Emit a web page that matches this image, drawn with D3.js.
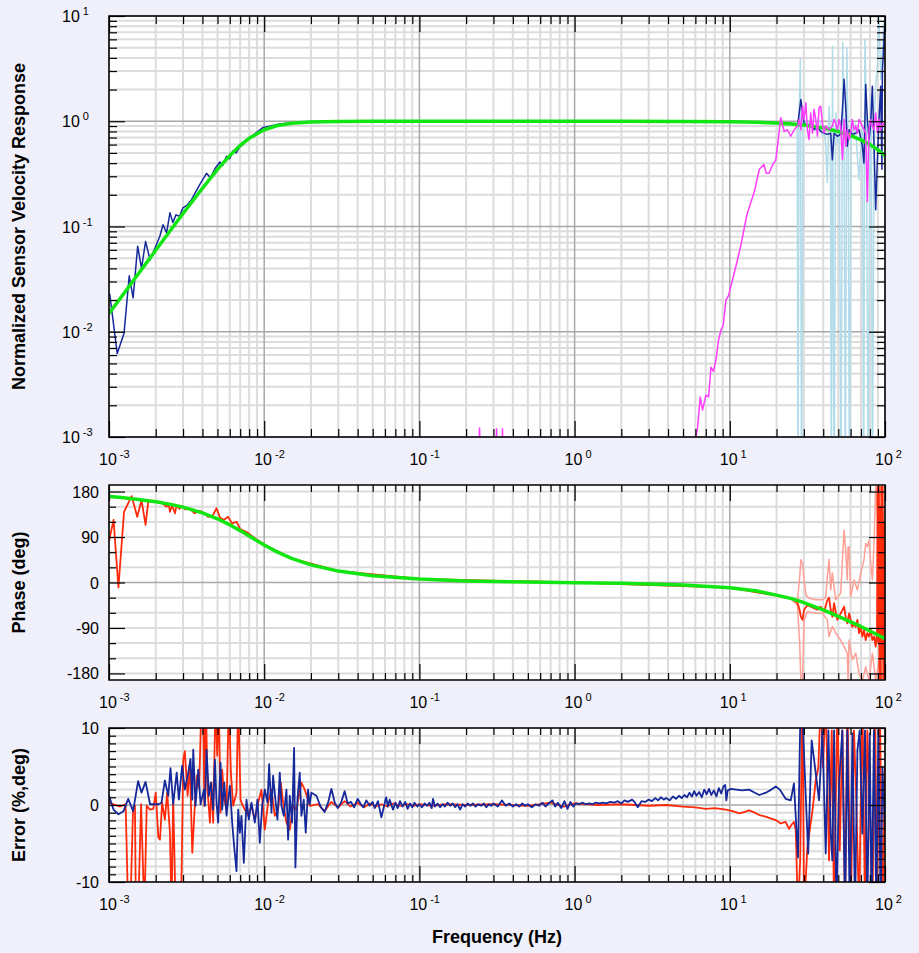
<!DOCTYPE html>
<html>
<head>
<meta charset="utf-8">
<script src="https://cdn.jsdelivr.net/npm/d3@7"></script>
<style>
  body { margin: 0; background: #f0f0fa; }
  svg { display: block; }
</style>
</head>
<body>
<div id="chart"></div>
<script>
// ---- model fit (green) ----
var fitFreq = [0.001, 0.0012, 0.0015, 0.002, 0.0025, 0.003, 0.004, 0.005, 0.006, 0.007, 0.008, 0.01, 0.012, 0.015, 0.02, 0.03, 0.05, 0.1, 0.2, 0.5, 1, 2, 5, 10, 15, 20, 25, 30, 40, 50, 60, 70, 80, 90, 100];
var fitMag = [0.0149, 0.0214, 0.0335, 0.0594, 0.0926, 0.133, 0.231, 0.349, 0.472, 0.589, 0.689, 0.83, 0.906, 0.958, 0.986, 0.997, 1.0, 1.0, 1.0, 1.0, 1.0, 1.0, 0.997, 0.99, 0.978, 0.96, 0.94, 0.92, 0.865, 0.8, 0.73, 0.665, 0.6, 0.535, 0.47];
var fitPhase = [170.1, 168.1, 165, 159.9, 154.6, 149.2, 137.8, 126.1, 114.2, 102.7, 92, 74.2, 61.1, 47.8, 34.9, 22.6, 13.4, 6.7, 3.2, 1.0, -0.3, -1.6, -4.8, -10.5, -17, -25, -32, -40, -54, -67, -78, -87, -96, -104, -111];

// ---- measured magnitude (navy) ----
var magMeasured = [[0.00101, 0.023], [0.00113, 0.0062], [0.00125, 0.0097], [0.00135, 0.034], [0.00143, 0.021], [0.00153, 0.065], [0.00162, 0.040], [0.00172, 0.072], [0.00184, 0.048], [0.002, 0.065], [0.00212, 0.08], [0.00223, 0.104], [0.00235, 0.087], [0.00247, 0.135], [0.00258, 0.109], [0.0027, 0.129], [0.00285, 0.125], [0.00299, 0.15], [0.0032, 0.16], [0.0034, 0.18], [0.00357, 0.205], [0.0039, 0.26], [0.00425, 0.32], [0.0045, 0.29], [0.00485, 0.36], [0.00518, 0.41], [0.0054, 0.38], [0.00572, 0.465], [0.006, 0.44], [0.00628, 0.52], [0.0066, 0.50], [0.00697, 0.57], [0.0073, 0.6], [0.00769, 0.67], [0.0085, 0.74], [0.0098, 0.87], [0.011, 0.9], [0.0125, 0.94], [0.0153, 0.97], [0.018, 0.99], [0.025, 1.0], [0.1, 1.0], [1, 1.0], [10, 1.0], [20, 0.97],
  [25, 0.95], [26.2, 0.93], [27.3, 0.90], [28.0, 1.2], [28.7, 1.61], [29.4, 1.2], [30.1, 0.96], [31.6, 0.90], [33.2, 0.96], [34.9, 0.83], [36.7, 0.90], [38.5, 0.80], [40.5, 0.77], [42.5, 0.75], [44.7, 0.77], [45.8, 0.43], [47.0, 0.77], [49.3, 0.72], [51.8, 0.75], [53.2, 1.3], [54.5, 2.5], [55.8, 1.39], [57.2, 0.58], [58.7, 0.83], [61.6, 0.75], [64.8, 0.77], [68.0, 0.83], [71.5, 0.58], [73.2, 0.40], [75.1, 2.24], [77.0, 1.04], [78.9, 0.67], [80.9, 0.96], [82.9, 2.15], [85.0, 0.58], [87.1, 0.144], [89.3, 0.43], [91.5, 1.04], [93.8, 2.15], [95.5, 0.35], [96.2, 3.0], [98, 5.0], [100, 8.5]];

// ---- second sensor magnitude (light blue) ----
var magSensorB = [[25.5, 0.96], [26.5, 0.93], [27.2, 0.9], [27.5, 0.0002], [27.9, 0.95], [28.5, 3.9], [29.0, 0.0002], [29.6, 1.05], [30.5, 0.92], [31.6, 1.0], [32.4, 0.88], [33.5, 1.05], [34.6, 0.9], [35.8, 0.82], [37.0, 1.08], [38.3, 0.95], [39.5, 0.72], [40.5, 0.86], [41.5, 0.6], [42.5, 0.26], [43.6, 1.39], [44.5, 0.75], [45.1, 0.0002], [45.9, 5.2], [47.0, 0.0002], [48.1, 1.2], [49.5, 0.62], [50.8, 0.9], [52.0, 0.0002], [53.4, 5.6], [54.6, 0.5], [55.5, 0.0002], [56.8, 5.0], [58.0, 0.5], [59.0, 0.0002], [60.6, 1.04], [62.5, 0.7], [64.5, 0.95], [66.4, 0.45], [68.0, 0.28], [69.8, 0.6], [71.5, 0.9], [72.8, 0.0002], [74.2, 6.0], [76.0, 0.8], [78.0, 0.0002], [79.8, 0.6], [81.5, 1.8], [83.0, 0.0002], [85.0, 0.8], [87.1, 2.2], [89.5, 3.5], [91.5, 9.5], [94, 2.5], [96.2, 4.5], [98.2, 9.0], [100, 5.0]];

// ---- reference channel magnitude (magenta) ----
var magReference = [[0.15, 0.0003], [0.2, 0.0004], [0.24, 0.0005], [0.244, 0.00122], [0.248, 0.0005], [0.28, 0.0004], [0.31, 0.0005], [0.314, 0.0012], [0.318, 0.0005], [0.34, 0.0005], [0.343, 0.0012], [0.347, 0.0005], [0.5, 0.0003], [1, 0.0002], [3, 0.0003], [5.5, 0.0006], [6.05, 0.001], [6.2, 0.00124], [6.45, 0.0024], [6.67, 0.0018], [7.01, 0.0025], [7.3, 0.0024], [7.56, 0.0046], [7.85, 0.0042], [8.14, 0.0054], [8.46, 0.0083], [8.77, 0.0104], [9.07, 0.0116], [9.44, 0.02], [9.81, 0.022], [10.4, 0.031], [11.2, 0.048], [11.8, 0.067], [12.9, 0.13], [14.4, 0.215], [15.5, 0.35], [16.6, 0.387], [17.2, 0.32], [17.9, 0.32], [18.8, 0.38], [19.8, 0.43], [21.3, 1.08], [22.4, 0.8], [23.5, 0.83], [24.7, 0.72], [26.0, 0.83], [27.3, 0.9], [28.0, 1.04], [28.7, 0.83], [29.4, 1.39], [30.1, 1.04], [30.9, 1.5], [31.6, 0.83], [32.4, 0.67], [33.2, 1.2], [34.1, 0.77], [34.9, 1.3], [35.8, 1.04], [36.7, 0.72], [37.6, 1.35], [38.5, 1.39], [39.5, 0.96], [40.5, 0.77], [41.5, 0.9], [43.6, 0.83], [45.8, 0.9], [47.0, 1.04], [48.1, 0.96], [49.3, 0.83], [50.6, 1.04], [51.8, 0.9], [53.2, 0.43], [54.5, 1.04], [55.8, 0.58], [57.2, 0.83], [58.7, 0.67], [60.1, 0.77], [61.6, 1.04], [63.2, 0.83], [64.8, 0.9], [66.4, 0.77], [68.0, 1.04], [71.5, 0.9], [75.1, 0.77], [77.0, 0.173], [78.9, 0.83], [80.9, 1.04], [82.9, 0.9], [85.0, 0.83], [87.1, 1.2], [89.3, 0.77], [91.5, 1.04], [93.8, 0.83], [96.2, 0.96], [100, 0.9]];

// ---- measured phase (red) ----
var phaseMeasured = [[0.001, 82], [0.00107, 124], [0.00115, -10], [0.00125, 140], [0.0014, 171], [0.00152, 130], [0.00162, 163], [0.00172, 114], [0.00179, 160], [0.0019, 162], [0.00203, 160], [0.00213, 158], [0.00225, 155], [0.00235, 150], [0.00242, 156], [0.00247, 140], [0.00255, 153], [0.00266, 137], [0.00272, 152], [0.00285, 146], [0.00294, 152], [0.00308, 145], [0.00332, 146], [0.00357, 137], [0.00385, 142], [0.00415, 136], [0.00435, 130], [0.00465, 132], [0.00493, 147], [0.0052, 128], [0.0055, 124], [0.00586, 130], [0.0062, 117], [0.00664, 120], [0.007, 106], [0.0077, 100], [0.0085, 90], [0.01, 75], [0.015, 48], [0.03, 23], [0.1, 7], [1, 0], [10, -10], [20, -26],
  [25, -32], [27.3, -40], [28.2, -55], [28.7, -68], [29.4, -74], [30.1, -54], [31.6, -45], [33.2, -48], [34.9, -51], [36.7, -54], [38.5, -48], [40.5, -58], [42.5, -35], [43.6, -30], [44.7, -54], [45.8, -68], [47.0, -41], [48.1, -58], [49.3, -74], [51.8, -61], [54.5, -48], [55.8, -68], [57.2, -81], [58.7, -61], [60.1, -74], [61.6, -88], [63.2, -81], [64.8, -88], [66.4, -74], [68.0, -100], [69.7, -88], [71.5, -107], [73.2, -94], [75.1, -114], [77.0, -100], [78.9, -107], [80.9, -94], [82.9, -114], [85.0, -107], [87.1, -127], [88.8, -100], [89.6, 190], [90.4, -120], [91.3, 190], [92.1, -190], [93.0, 150], [93.9, -190], [94.8, 190], [95.7, -150], [96.6, 190], [97.5, -190], [98.4, 120], [99.3, -190], [100, -110]];

// ---- phase uncertainty bounds (light red) ----
var phaseUpper = [[25, -30], [27.3, -35], [28.2, 10], [28.7, 45], [29.4, 38], [30.1, 5], [31, -25], [32.4, -31], [35.8, -34], [39.5, -34], [41.5, -30], [42.5, 11], [43.6, 46], [44.7, -15], [45.8, 19], [48.1, -34], [51.8, -21], [54.5, 104], [55.8, 63], [57.2, 5], [57.8, 70], [58.7, 71], [60.1, -28], [63.2, 5], [66.4, -15], [69.7, 18], [73.2, 44.5], [75.1, 77], [77.0, 71], [78.9, 84], [80.9, 38], [82.9, 5], [85.0, 77], [87.1, 190], [90, 120], [93, 190], [96, 150], [100, 100]];
var phaseLower = [[25, -34], [27.3, -45], [28.2, -120], [28.7, -195], [29.4, -195], [30.1, -74], [31.6, -58], [35.8, -61], [39.5, -61], [42.5, -74], [43.6, -107], [45.8, -87], [48.1, -100], [51.8, -114], [54.5, -127], [57.2, -140], [57.8, -195], [58.7, -114], [61.6, -153], [64.8, -140], [68.0, -180], [71.5, -195], [75.1, -167], [78.9, -195], [82.9, -140], [87.1, -195], [92, -150], [96, -195], [100, -170]];

// ---- errors (%, deg) ----
var errBlue = [[0.001, 1.2], [0.00107, -0.6], [0.00115, -1.2], [0.00124, -0.8], [0.00133, 0.8], [0.00143, -0.8], [0.00154, 3.1], [0.00162, 1.6], [0.00172, 3.0], [0.00184, 0.1], [0.00208, 0.1], [0.00218, 0.3], [0.00229, 3.2], [0.00241, 1.2], [0.00249, 4.8], [0.00259, 0.1], [0.00273, 4.2], [0.00282, 0.7], [0.00296, 5.1], [0.00308, 2.0], [0.00324, 4.2], [0.00335, 6.0], [0.00344, 0.7], [0.00349, 7.2], [0.00361, -0.1], [0.00376, 4.6], [0.00389, 0.1], [0.00409, 2.0], [0.00415, -0.1], [0.00425, 7.2], [0.0044, 1.2], [0.00453, 2.9], [0.00469, -0.6], [0.00481, 5.9], [0.00493, 0.3], [0.00505, -2.3], [0.00523, 5.5], [0.00536, -0.6], [0.00553, 2.9], [0.00572, -1.4], [0.00586, 0.7], [0.00601, 2.5], [0.00622, -2.3], [0.0064, -5.3], [0.00663, -8.6], [0.0068, -0.6], [0.00697, -3.6], [0.00714, -1.4], [0.00739, -7.5], [0.00769, 0.7], [0.00796, -1.9], [0.00828, 0.3], [0.0087, -2.3], [0.00905, 0.7], [0.00937, -4.9], [0.0097, -0.1], [0.0101, 2.0], [0.0105, 0.3], [0.01076, 5.3], [0.01114, -1.0], [0.01141, 3.8], [0.01181, 0.7], [0.01217, -1.9], [0.0126, 4.2], [0.01291, -0.1], [0.01337, -1.4], [0.01391, 2.0], [0.01426, -4.5], [0.01461, 1.2], [0.01512, -2.3], [0.01558, 7.4], [0.01589, -8.1], [0.01637, 0.7], [0.01694, 4.2], [0.01737, -1.4], [0.01798, 0.7], [0.01852, -3.6], [0.01917, 2.0], [0.01965, 0.1], [0.02015, 1.6], [0.0217, 1.2], [0.0232, -0.3], [0.0245, -0.9], [0.0258, 0.3], [0.0271, 2.1], [0.0285, 0.3], [0.0298, -0.4], [0.0314, 0.4], [0.033, 1.8], [0.0345, 0.2], [0.0362, 0.4], [0.038, -0.3], [0.04, 0.8], [0.042, 0.1], [0.0435, -0.3], [0.0455, 0.6], [0.0478, -0.1], [0.05, 0.4], [0.0515, -0.4], [0.0541, 0.5], [0.0569, -1.6], [0.061, 1.0], [0.0627, -0.2], [0.0643, 0.7], [0.0676, -0.6], [0.07, 0.3],
  [0.0725, -0.4], [0.075, 0.5], [0.078, -0.2], [0.081, 0.4], [0.084, -0.5], [0.087, 0.2], [0.09, -0.3], [0.093, 0.3], [0.097, -0.2], [0.1, 0.1], [0.104, -0.3], [0.108, 0.2], [0.112, -0.1], [0.116, 0.3], [0.12, -0.4], [0.1223, 0.8], [0.126, -0.2], [0.131, 0.2], [0.136, -0.3], [0.141, 0.1], [0.146, -0.2], [0.152, 0.3], [0.158, -0.1], [0.164, 0.2], [0.17, -0.3], [0.176, 0.1], [0.183, -0.6], [0.19, 0.1], [0.197, -0.2], [0.205, 0.2], [0.213, -0.1], [0.221, 0.2], [0.23, -0.2], [0.24, 0.1], [0.25, -0.1], [0.26, 0.2], [0.27, -0.3], [0.28, 0.1], [0.29, -0.1], [0.3, 0.2], [0.32, -0.2], [0.34, 0.6], [0.36, -0.1], [0.38, 0.2], [0.4, -0.2], [0.42, 0.1], [0.44, -0.2], [0.46, 0.2], [0.48, -0.1], [0.5, 0.1], [0.53, -0.3], [0.56, 0.1], [0.59, -0.1], [0.62, 0.3], [0.65, -0.2], [0.68, 0.2], [0.72, 0.6], [0.75, -0.2], [0.78, 0.3], [0.82, -0.4], [0.86, 0.5], [0.9, -0.5], [0.94, 0.4], [0.98, -0.2], [1.02, 0.2], [1.07, 0.1], [1.12, 0.3], [1.18, 0.1], [1.24, 0.2], [1.3, 0.1], [1.37, 0.3], [1.44, 0.2], [1.52, 0.3], [1.6, 0.2], [1.7, 0.4], [1.8, 0.3], [1.9, 0.5], [2.0, 0.2], [2.1, 0.6], [2.2, 0.4], [2.35, 0.7], [2.45, 0.3], [2.55, -0.3], [2.7, 0.5], [2.85, 0.4], [3.0, 0.7], [3.15, 0.5], [3.3, 0.9], [3.45, 0.6], [3.6, 1.0], [3.75, 0.7], [3.9, 0.9], [4.1, 0.6], [4.3, 1.1], [4.5, 0.8], [4.7, 1.2], [4.9, 0.9], [5.1, 1.3], [5.3, 1.0], [5.5, 1.6], [5.7, 1.1], [5.9, 1.8], [6.1, 1.2], [6.35, 1.7], [6.6, 1.0], [6.85, 2.0], [7.1, 1.4], [7.35, 2.1], [7.6, 1.3], [7.9, 1.9], [8.2, 1.1], [8.5, 2.2], [8.8, 1.5], [9.1, 2.4], [9.35, 2.6], [9.5, 0.6], [9.7, 1.9], [10.2, 2.1], [11, 2.0], [12, 1.9], [13.3, 2.0], [14.5, 1.6], [15.5, 1.3], [17.1, 1.6], [18.5, 2.0], [19.8, 2.4], [21, 2.0], [22.9, 0.8], [24.7, 0.6], [25.9, 2.8],
  [27.5, -6.8], [28.6, 14], [29.7, 9.7], [30.3, 4.9], [32.0, -6.3], [33.7, 8.4], [37.6, 0.6], [39.5, 9.7], [41.5, -6.3], [43.2, 9.7], [44.7, -3.7], [45.8, -7.2], [47.0, 9.7], [48.6, -14], [50.6, 2.8], [53.1, 9.7], [55.3, -14], [57.2, 9.7], [59.3, -14], [61.7, 9.3], [64.1, -14], [66.4, 7.1], [68.7, 9.7], [71.5, -3.7], [74.3, 9.7], [76.9, -14], [79.7, 9.3], [82.0, -14], [84.9, 9.7], [87.9, -14], [90.6, 9.7], [93.8, -14], [96.3, 4.9], [100, -3]];

var errRed = [[0.001, 0.3], [0.00118, -0.2], [0.00128, 0.1], [0.00133, -14], [0.00137, -14], [0.00143, -0.35], [0.00147, -0.1], [0.00149, -14], [0.00154, -14], [0.00161, 0.1], [0.00169, -14], [0.00175, -0.1], [0.00184, -0.6], [0.00193, -0.5], [0.002, 1.6], [0.00208, -4.2], [0.00213, -4.5], [0.0022, 0.3], [0.00229, -1.9], [0.00237, 1.6], [0.00247, -3.6], [0.00253, -14], [0.00259, 1.2], [0.00269, -14], [0.00279, -14], [0.00291, -14], [0.00301, 5.9], [0.00308, 7.0], [0.00321, 1.2], [0.00332, 5.1], [0.00344, -6.2], [0.00358, 0.3], [0.00368, 3.8], [0.00381, 2.2], [0.00395, 14], [0.00405, 14], [0.00411, -0.1], [0.00421, 14], [0.00431, 2.0], [0.00447, -2.3], [0.00458, 2.9], [0.00469, -2.3], [0.00486, 14], [0.00498, 6.4], [0.0051, 14], [0.00523, -1.0], [0.00536, 4.6], [0.00553, 0.7], [0.00572, -0.6], [0.00592, 14], [0.0061, 4.2], [0.00631, -0.1], [0.00663, 1.6], [0.0068, 14], [0.00704, 0.7], [0.00721, 0.1], [0.0075, -0.6], [0.00788, -1.4], [0.00828, -0.1], [0.0087, -1.9], [0.00914, 0.3], [0.0096, 2.0], [0.01009, -3.2], [0.0106, 0.3], [0.01114, 2.0], [0.0117, -1.4], [0.01229, -0.6], [0.01279, 2.9], [0.01324, 0.3], [0.01391, -2.3], [0.01461, -3.2], [0.01535, -0.1], [0.01613, -0.6], [0.01737, 2.9], [0.01825, 2.0], [0.01965, -0.1], [0.0222, 0.1], [0.0245, -0.8], [0.027, 0.4], [0.03, -0.3], [0.033, 0.5], [0.036, -0.2], [0.04, 0.3], [0.044, -0.3], [0.048, 0.2], [0.052, -0.2], [0.057, 0.1], [0.062, -0.2], [0.068, 0.2], [0.075, -0.1], [0.083, 0.1], [0.092, -0.1], [0.1, 0.1], [0.12, -0.1], [0.15, 0.1], [0.2, 0], [0.3, 0.1], [0.5, -0.1], [0.7, 0.3], [0.85, -0.2], [1.0, 0.2], [1.4, 0], [2, 0.1], [3, -0.1], [3.9, 0], [5, -0.2], [6, -0.3], [7, -0.5], [8, -0.4], [9.44, -0.6], [10.4, -0.8], [11.5, -1.1], [12.5, -0.9], [13.3, -0.7], [14.5, -1.0], [15.5, -1.3], [17, -1.5], [18.7, -1.8], [20, -2.0], [21.3, -2.4], [22.9, -2.2], [24.1, -3.1], [24.9, -2.6], [25.9, -2.2], [26.6, -3.3],
  [27.5, -14], [28.4, -7.2], [29.4, 14], [30.1, -14], [31.6, -5.5], [34.1, -0.7], [35.8, 3.2], [37.2, 4.9], [38.6, 14], [39.9, 4.9], [41.5, 14], [43.6, -7.2], [45.4, 9.7], [47.0, -14], [49.4, 14], [51.1, -5.9], [53.1, 9.7], [55.3, -14], [57.2, 14], [60.1, -14], [63.1, 9.7], [65.3, 0.6], [68.1, -14], [71.5, 14], [74.3, -14], [76.9, 9.7], [79.7, 0.6], [83.0, -14], [86.2, 14], [88.9, -14], [92.5, 14], [96.3, -14], [100, 5]];

// axis tick values
var phaseTicks = [-180, -90, 0, 90, 180];
var errorTicks = [-10, 0, 10];

var width = 919, height = 953;
var plotLeft = 109, plotRight = 885;
var fontFamily = "'Liberation Sans', Arial, Helvetica, sans-serif";
var green = "#12e612";

var svg = d3.select("#chart").append("svg")
    .attr("width", width)
    .attr("height", height)
    .style("font-family", fontFamily);

svg.append("rect").attr("width", width).attr("height", height).attr("fill", "#f0f0fa");

var x = d3.scaleLog().domain([1e-3, 1e2]).range([plotLeft, plotRight]);

function isDecade(d) { return Math.abs(Math.log10(d) - Math.round(Math.log10(d))) < 1e-6; }
var xMajor = x.ticks().filter(isDecade);
var xMinor = x.ticks().filter(function(d) { return !isDecade(d); });

var fitMagPts = fitFreq.map(function(f, i) { return [f, fitMag[i]]; });
var fitPhasePts = fitFreq.map(function(f, i) { return [f, fitPhase[i]]; });

var magY = d3.scaleLog().domain([1e-3, 10]);
var magYTicks = magY.ticks();

var phaseMinor = d3.range(-180, 181, 30).filter(function(d) { return phaseTicks.indexOf(d) < 0; });
var errorMinor = d3.range(-10, 11, 1).filter(function(d) { return errorTicks.indexOf(d) < 0; });

var panels = [
    { id: "mag", top: 16, bottom: 437, y: magY, log: true,
      yMajor: magYTicks.filter(isDecade), yMinor: magYTicks.filter(function(d) { return !isDecade(d); }),
      majorGrid: magYTicks.filter(isDecade),
      title: "Normalized Sensor Velocity Response",
      series: [
        { data: magSensorB, color: "#b2dcea", width: 1.5 },
        { data: magMeasured, color: "#16299a", width: 1.5 },
        { data: fitMagPts, color: green, width: 3.5 },
        { data: magReference, color: "#ff3cff", width: 1.5 }
      ] },
    { id: "phase", top: 485, bottom: 680, y: d3.scaleLinear().domain([-193, 193]), log: false,
      yMajor: phaseTicks, yMinor: phaseMinor, majorGrid: [0],
      title: "Phase (deg)",
      series: [
        { data: phaseUpper, color: "#ffa096", width: 1.5 },
        { data: phaseLower, color: "#ffa096", width: 1.5 },
        { data: phaseMeasured, color: "#ff2a0a", width: 1.8 },
        { data: fitPhasePts, color: green, width: 3.5 }
      ] },
    { id: "err", top: 728, bottom: 882, y: d3.scaleLinear().domain([-10, 10]), log: false,
      yMajor: errorTicks, yMinor: errorMinor, majorGrid: [0],
      title: "Error (%,deg)",
      series: [
        { data: errRed, color: "#ff2a0a", width: 1.8 },
        { data: errBlue, color: "#16299a", width: 1.8 }
      ] }
];

panels.forEach(drawPanel);

// x axis title
svg.append("text")
    .attr("x", (plotLeft + plotRight) / 2)
    .attr("y", 943)
    .attr("text-anchor", "middle")
    .attr("font-size", 18)
    .attr("font-weight", "bold")
    .text("Frequency (Hz)");

function drawPanel(p) {
    var y = p.y.range([p.bottom, p.top]);
    var g = svg.append("g").attr("class", "panel-" + p.id);
    var allY = p.yMajor.concat(p.yMinor);

    g.append("rect")
        .attr("x", plotLeft).attr("y", p.top)
        .attr("width", plotRight - plotLeft).attr("height", p.bottom - p.top)
        .attr("fill", "#ffffff");

    // grid lines
    var grid = g.append("g");
    grid.selectAll(".vminor").data(xMinor).enter().append("line")
        .attr("x1", function(d) { return x(d); }).attr("x2", function(d) { return x(d); })
        .attr("y1", p.top).attr("y2", p.bottom)
        .attr("stroke", "#dcdcdc").attr("stroke-width", 2);
    grid.selectAll(".hminor").data(allY.filter(function(d) { return p.majorGrid.indexOf(d) < 0; })).enter().append("line")
        .attr("x1", plotLeft).attr("x2", plotRight)
        .attr("y1", function(d) { return y(d); }).attr("y2", function(d) { return y(d); })
        .attr("stroke", "#dcdcdc").attr("stroke-width", 2);
    grid.selectAll(".vmajor").data(xMajor).enter().append("line")
        .attr("x1", function(d) { return x(d); }).attr("x2", function(d) { return x(d); })
        .attr("y1", p.top).attr("y2", p.bottom)
        .attr("stroke", "#a8a8a8").attr("stroke-width", 1.5);
    grid.selectAll(".hmajor").data(p.majorGrid).enter().append("line")
        .attr("x1", plotLeft).attr("x2", plotRight)
        .attr("y1", function(d) { return y(d); }).attr("y2", function(d) { return y(d); })
        .attr("stroke", "#a8a8a8").attr("stroke-width", 1.5);

    // data
    var clipId = "clip-" + p.id;
    svg.append("clipPath").attr("id", clipId).append("rect")
        .attr("x", plotLeft).attr("y", p.top)
        .attr("width", plotRight - plotLeft).attr("height", p.bottom - p.top);

    var line = d3.line()
        .x(function(d) { return x(d[0]); })
        .y(function(d) { return y(d[1]); });

    var lines = g.append("g").attr("clip-path", "url(#" + clipId + ")");
    p.series.forEach(function(s) {
        lines.append("path")
            .datum(s.data)
            .attr("d", line)
            .attr("fill", "none")
            .attr("stroke", s.color)
            .attr("stroke-width", s.width)
            .attr("stroke-linejoin", "round");
    });

    // ticks on all four sides, pointing inward
    var majorLen = 16, minorLen = p.log ? 8 : 7;
    function ticks(axis, transform) {
        g.append("g")
            .attr("transform", transform)
            .call(axis)
            .call(function(a) { a.select(".domain").remove(); })
            .selectAll("line").attr("stroke-width", 1.2);
    }
    var bottomT = "translate(0," + p.bottom + ")", topT = "translate(0," + p.top + ")";
    var leftT = "translate(" + plotLeft + ",0)", rightT = "translate(" + plotRight + ",0)";
    ticks(d3.axisBottom(x).tickValues(xMajor).tickSize(-majorLen).tickFormat(""), bottomT);
    ticks(d3.axisBottom(x).tickValues(xMinor).tickSize(-minorLen).tickFormat(""), bottomT);
    ticks(d3.axisTop(x).tickValues(xMajor).tickSize(-majorLen).tickFormat(""), topT);
    ticks(d3.axisTop(x).tickValues(xMinor).tickSize(-minorLen).tickFormat(""), topT);
    ticks(d3.axisLeft(y).tickValues(p.yMajor).tickSize(-majorLen).tickFormat(""), leftT);
    ticks(d3.axisLeft(y).tickValues(p.yMinor).tickSize(-minorLen).tickFormat(""), leftT);
    ticks(d3.axisRight(y).tickValues(p.yMajor).tickSize(-majorLen).tickFormat(""), rightT);
    ticks(d3.axisRight(y).tickValues(p.yMinor).tickSize(-minorLen).tickFormat(""), rightT);

    // frame
    g.append("rect")
        .attr("x", plotLeft).attr("y", p.top)
        .attr("width", plotRight - plotLeft).attr("height", p.bottom - p.top)
        .attr("fill", "none").attr("stroke", "#000").attr("stroke-width", 1.5);

    // x tick labels: 10 with exponent
    var xl = g.append("g").selectAll("text").data(xMajor).enter().append("text")
        .attr("x", function(d) { return x(d) - 10; })
        .attr("y", p.bottom + 28)
        .attr("font-size", 16);
    xl.append("tspan").text("10");
    xl.append("tspan").attr("dx", 3).attr("dy", -7).attr("font-size", 11)
        .text(function(d) { return Math.round(Math.log10(d)); });

    // y tick labels
    if (p.log) {
        var yl = g.append("g").selectAll("text").data(p.yMajor).enter().append("text")
            .attr("x", 62)
            .attr("y", function(d) { return y(d) + 6; })
            .attr("font-size", 16);
        yl.append("tspan").text("10");
        yl.append("tspan").attr("dx", 3).attr("dy", -7).attr("font-size", 11)
            .text(function(d) { return Math.round(Math.log10(d)); });
    } else {
        g.append("g").selectAll("text").data(p.yMajor).enter().append("text")
            .attr("x", 99)
            .attr("y", function(d) { return y(d) + 6; })
            .attr("text-anchor", "end")
            .attr("font-size", 16)
            .text(function(d) { return d; });
    }

    // y axis title
    var cy = (p.top + p.bottom) / 2;
    g.append("text")
        .attr("transform", "translate(25," + cy + ") rotate(-90)")
        .attr("text-anchor", "middle")
        .attr("font-size", 18)
        .attr("font-weight", "bold")
        .text(p.title);
}
</script>
</body>
</html>
